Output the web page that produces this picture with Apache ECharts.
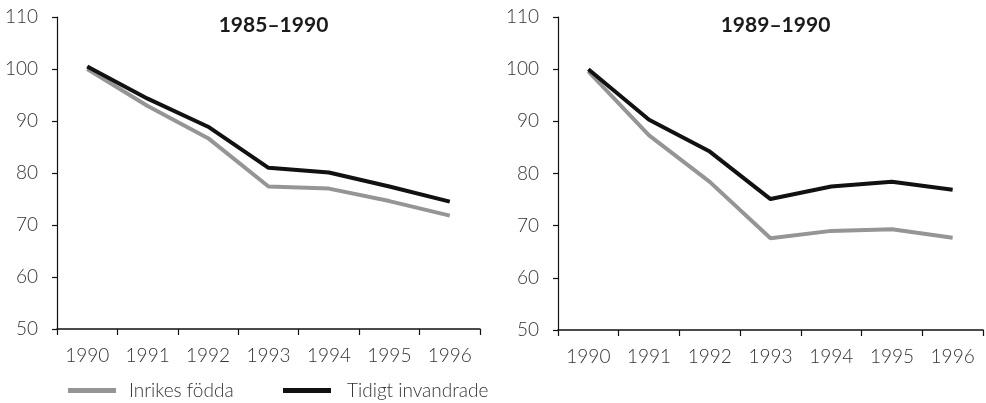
<!DOCTYPE html>
<html>
<head>
<meta charset="utf-8">
<script src="https://cdn.jsdelivr.net/npm/echarts@6/dist/echarts.min.js"></script>
<style>
  html, body { margin: 0; padding: 0; background: #fff; }
  #chart { width: 986px; height: 403px; }
</style>
</head>
<body>
<div id="chart"></div>
<script>
  const years = ['1990', '1991', '1992', '1993', '1994', '1995', '1996']
  const titles = ['1985–1990', '1989–1990']

  // 1985–1990 cohort
  const inrikesA = [100, 92.9, 86.7, 77.4, 77.0, 74.6, 71.8]
  const tidigtA = [100.5, 94.3, 88.9, 81.0, 80.1, 77.4, 74.5]

  // 1989–1990 cohort
  const inrikesB = [99.6, 87.3, 78.4, 67.6, 69.0, 69.3, 67.7]
  const tidigtB = [100, 90.3, 84.2, 75.1, 77.5, 78.4, 76.9]

  const font = 'Lato, "Open Sans", sans-serif'
  const grey = '#959595'
  const black = '#111111'

  const grids = [
    { left: 57, top: 17, width: 423, height: 312 },
    { left: 558, top: 17, width: 425, height: 313 }
  ]

  const xAxes = grids.map((g, i) => ({
    type: 'category',
    gridIndex: i,
    data: years,
    boundaryGap: true,
    axisLine: { lineStyle: { color: '#111', width: 1.5 } },
    axisTick: { show: true, length: 6, lineStyle: { color: '#111', width: 1.2 } },
    axisLabel: { color: '#333', fontFamily: font, fontWeight: 300, fontSize: 19, margin: 17, interval: 0 }
  }))

  const yAxes = grids.map((g, i) => ({
    type: 'value',
    gridIndex: i,
    min: 50,
    max: 110,
    interval: 10,
    splitLine: { show: false },
    axisLine: { show: true, lineStyle: { color: '#111', width: 1.2 } },
    axisTick: { show: true, length: 5, lineStyle: { color: '#111', width: 1.2 } },
    axisLabel: { color: '#333', fontFamily: font, fontWeight: 300, fontSize: 19, margin: 19 }
  }))

  const lineSeries = (name, data, color, idx, z) => ({
    name: name,
    type: 'line',
    xAxisIndex: idx,
    yAxisIndex: idx,
    data: data,
    symbol: 'none',
    z: z,
    lineStyle: { color: color, width: 4 },
    itemStyle: { color: color }
  })

  const chart = echarts.init(document.getElementById('chart'))
  chart.setOption({
    animation: false,
    title: titles.map((t, i) => ({
      text: t,
      left: grids[i].left + grids[i].width / 2,
      textAlign: 'center',
      top: 10,
      textStyle: { fontFamily: font, fontSize: 21, fontWeight: 'bold', color: '#1a1a1a' }
    })),
    legend: [
      {
        data: ['Inrikes födda'],
        left: 63,
        top: 376,
        icon: 'rect',
        itemWidth: 48,
        itemHeight: 5,
        textStyle: { fontFamily: font, fontWeight: 300, fontSize: 19, color: '#333', padding: [0, 0, 0, 8] }
      },
      {
        data: ['Tidigt invandrade'],
        left: 278,
        top: 376,
        icon: 'rect',
        itemWidth: 48,
        itemHeight: 5,
        textStyle: { fontFamily: font, fontWeight: 300, fontSize: 19, color: '#333', padding: [0, 0, 0, 11] }
      }
    ],
    grid: grids,
    xAxis: xAxes,
    yAxis: yAxes,
    series: [
      lineSeries('Inrikes födda', inrikesA, grey, 0, 2),
      lineSeries('Tidigt invandrade', tidigtA, black, 0, 3),
      lineSeries('Inrikes födda', inrikesB, grey, 1, 2),
      lineSeries('Tidigt invandrade', tidigtB, black, 1, 3)
    ]
  })
</script>
</body>
</html>
